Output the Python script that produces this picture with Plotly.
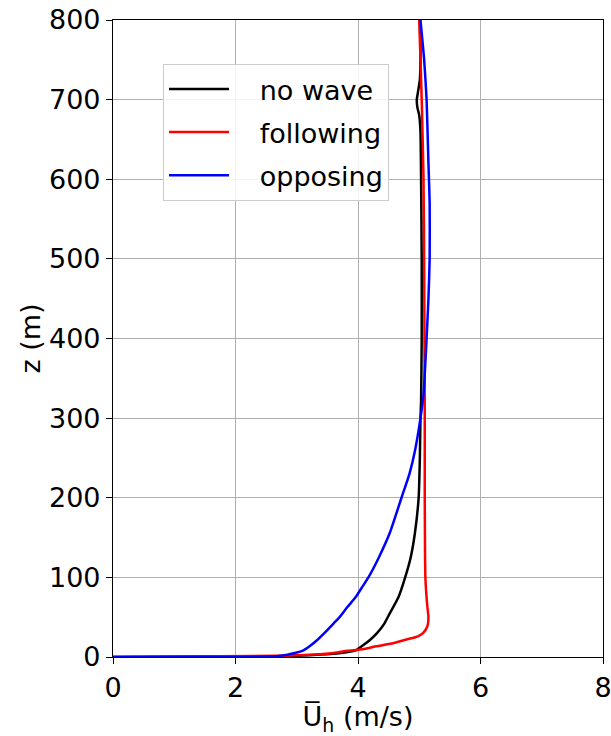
import plotly.graph_objects as go

# no wave
u_nowave = [0.0, 2.7, 3.4, 3.72, 3.95, 4.06, 4.19, 4.31, 4.43, 4.52, 4.66, 4.77, 4.86, 4.93, 4.99, 5.01, 5.02, 5.03, 5.04, 5.04, 5.03, 5.02, 5.0, 4.97, 4.96, 4.98, 5.01, 5.02, 5.01]
z_nowave = [0, 1, 3, 5, 8, 13.5, 21, 30, 42, 55, 75, 100, 125, 156, 200, 250, 300, 322, 400, 500, 600, 660, 680, 690, 700, 710, 725, 760, 800]
# following
u_following = [0.0, 2.67, 3.3, 3.6, 3.75, 4.1, 4.3, 4.55, 4.79, 4.98, 5.06, 5.13, 5.15, 5.13, 5.10, 5.09, 5.09, 5.08, 5.07, 5.04, 5.0]
z_following = [0, 1.5, 3, 5, 7, 10, 13.5, 17, 22, 26, 30, 38, 50, 65, 100, 200, 300, 500, 600, 700, 800]
# opposing
u_opposing = [0.0, 2.67, 2.85, 2.97, 3.10, 3.22, 3.33, 3.45, 3.6, 3.71, 3.83, 3.96, 4.07, 4.17, 4.34, 4.52, 4.71, 4.84, 4.93, 5.02, 5.07, 5.12, 5.15, 5.17, 5.17, 5.15, 5.12, 5.08, 5.02]
z_opposing = [0, 1, 3, 5, 8, 14, 21, 30, 42, 51, 63, 75, 88, 100, 125, 156, 200, 230, 259, 300, 330, 400, 450, 500, 570, 620, 700, 750, 800]

series = [
    ("no wave", u_nowave, z_nowave, "black"),
    ("following", u_following, z_following, "red"),
    ("opposing", u_opposing, z_opposing, "blue"),
]

FONT = "DejaVu Sans"
FS = 27
NB = "\u00a0\u00a0\u00a0"
fig = go.Figure()
for i, (name, u, z, c) in enumerate(series):
    fig.add_trace(go.Scatter(x=u, y=z, mode="lines", name=NB + name, legendgroup=str(i),
                             line=dict(color=c, width=2.5, shape="spline", smoothing=0.5)))

axis_common = dict(showline=True, linecolor="black", linewidth=1.2, mirror=True,
                   ticks="outside", ticklen=6, tickcolor="black",
                   showgrid=True, gridcolor="#b0b0b0", gridwidth=1, zeroline=False,
                   ticklabeloverflow="allow",
                   tickfont=dict(family=FONT, size=FS, color="black"))

fig.update_layout(
    width=611, height=736,
    margin=dict(l=113, r=8, t=20, b=79, autoexpand=False),
    paper_bgcolor="white", plot_bgcolor="white",
    font=dict(family=FONT, size=FS, color="black"),
    showlegend=True,
    legend=dict(x=0.102, y=0.931, xanchor="left", yanchor="top",
                bgcolor="rgba(255,255,255,0.85)", bordercolor="#cccccc", borderwidth=1,
                font=dict(family=FONT, size=FS, color="black"), tracegroupgap=5,
                itemwidth=60),
    xaxis=dict(range=[0, 8], dtick=2, title=dict(text="U\u0305<sub>h</sub> (m/s)", standoff=7,
               font=dict(family=FONT, size=FS)), **axis_common),
    yaxis=dict(range=[0, 800], dtick=100, title=dict(text="z (m)", standoff=0,
               font=dict(family=FONT, size=FS)), **axis_common),
)

fig.write_html("out.html")
